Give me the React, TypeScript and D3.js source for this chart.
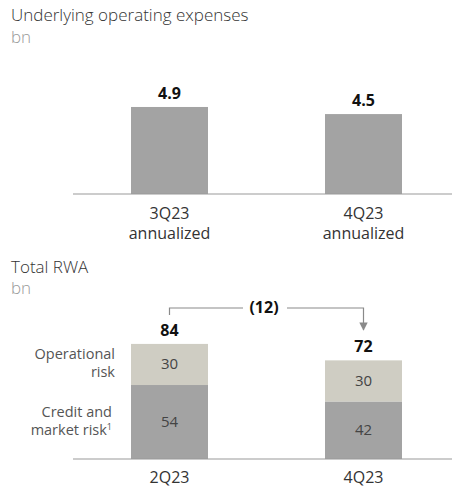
import React from "react";
import * as d3 from "d3";

const opexCategories = ["3Q23", "4Q23"];
const opexValues = [4.9, 4.5];

const rwaCategories = ["2Q23", "4Q23"];
const creditMarket = [54, 42];
const operational = [30, 30];
const rwaTotals = [84, 72];
const rwaChangeLabel = "(12)";

const FONT = "'Open Sans', 'Noto Sans', sans-serif";
const BAR = "#a3a3a3";
const OP = "#cfcdc3";

export default function App() {
  const W = 452, H = 490;
  const barW = 77;

  const xTop = d3.scalePoint<string>().domain(opexCategories).range([169.5, 363.5]);
  const yTop = d3.scaleLinear().domain([0, 5]).range([194, 105.2]);

  const xBot = d3.scalePoint<string>().domain(rwaCategories).range([169.5, 363.5]);
  const yBot = d3.scaleLinear().domain([0, 100]).range([459, 322]);

  const stack = d3.stack<any>().keys(["credit", "op"])(
    rwaCategories.map((c, i) => ({ cat: c, credit: creditMarket[i], op: operational[i] }))
  );

  const x0 = xBot(rwaCategories[0])!;
  const x1 = xBot(rwaCategories[1])!;
  const brY = 308;
  const midX = 264;

  return (
    <svg width={W} height={H} style={{ position: "absolute", left: 0, top: 0 }} fontFamily={FONT}>
      <defs>
        <marker id="arr" viewBox="0 0 10 10" refX="9" refY="5" markerWidth="7" markerHeight="7" orient="auto">
          <path d="M0,0 L10,5 L0,10 z" fill="#8a8a8a" />
        </marker>
      </defs>
      {/* Top chart */}
      <text x={11} y={21} fontSize={17} fill="#333" fontWeight={300}>Underlying operating expenses</text>
      <text x={11} y={43} fontSize={17} fill="#999" fontWeight={300}>bn</text>
      {opexCategories.map((c, i) => {
        const cx = xTop(c)!;
        const yv = yTop(opexValues[i]);
        return (
          <g key={c}>
            <rect x={cx - barW / 2} y={yv} width={barW} height={yTop(0) - yv} fill={BAR} />
            <text x={cx} y={yv - 8} textAnchor="middle" fontSize={16} fontWeight={700} fill="#111">
              {opexValues[i].toFixed(1)}
            </text>
            <text x={cx} y={219} textAnchor="middle" fontSize={16} fill="#333">{c}</text>
            <text x={cx} y={239} textAnchor="middle" fontSize={16} fill="#333">annualized</text>
          </g>
        );
      })}
      <line x1={73} x2={452} y1={yTop(0)} y2={yTop(0)} stroke="#999" strokeWidth={1} />

      {/* Bottom chart */}
      <text x={11} y={273} fontSize={17} fill="#333" fontWeight={300}>Total RWA</text>
      <text x={11} y={294} fontSize={17} fill="#999" fontWeight={300}>bn</text>
      {stack.map((s, si) =>
        s.map((d, i) => {
          const cx = xBot(rwaCategories[i])!;
          const yTopPx = yBot(d[1]);
          const yBotPx = yBot(d[0]);
          return (
            <g key={si + "-" + i}>
              <rect x={cx - barW / 2} y={yTopPx} width={barW} height={yBotPx - yTopPx} fill={si === 0 ? BAR : OP} />
              <text x={cx} y={(yTopPx + yBotPx) / 2 + 5} textAnchor="middle" fontSize={15} fill="#444">
                {d[1] - d[0]}
              </text>
            </g>
          );
        })
      )}
      {rwaCategories.map((c, i) => {
        const cx = xBot(c)!;
        return (
          <g key={c}>
            <text x={cx} y={yBot(rwaTotals[i]) - 8} textAnchor="middle" fontSize={16} fontWeight={700} fill="#111">
              {rwaTotals[i]}
            </text>
            <text x={cx} y={483} textAnchor="middle" fontSize={16} fill="#333">{c}</text>
          </g>
        );
      })}
      <line x1={73} x2={452} y1={yBot(0)} y2={yBot(0)} stroke="#999" strokeWidth={1} />

      {/* Side labels */}
      <g fontSize={14.5} fill="#555" textAnchor="end">
        <text x={115} y={359}>Operational</text>
        <text x={115} y={377}>risk</text>
        <text x={112} y={417}>Credit and</text>
        <text x={112} y={435}>market risk<tspan fontSize={9} dy={-5}>1</tspan></text>
      </g>

      {/* Change bracket */}
      <path d={`M${x0},315 V${brY} H${midX - 21}`} fill="none" stroke="#8a8a8a" strokeWidth={1.2} />
      <path d={`M${midX + 23},${brY} H${x1} V330`} fill="none" stroke="#8a8a8a" strokeWidth={1.2} markerEnd="url(#arr)" />
      <text x={midX} y={brY + 5} textAnchor="middle" fontSize={16} fontWeight={700} fill="#111">{rwaChangeLabel}</text>
    </svg>
  );
}
